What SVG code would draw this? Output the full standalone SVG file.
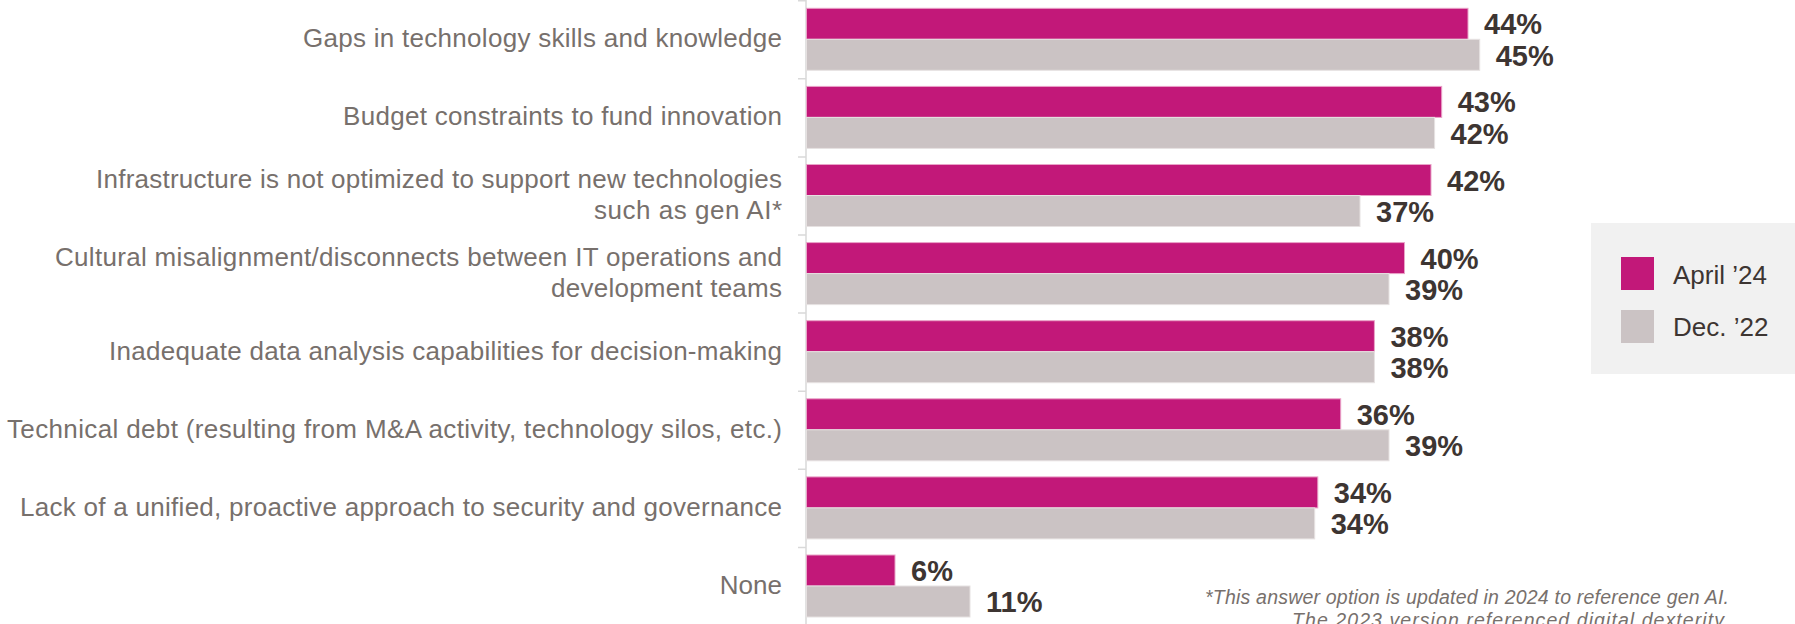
<svg xmlns="http://www.w3.org/2000/svg" width="1795" height="624" viewBox="0 0 1795 624">
<style>
.lbl{font-family:"Liberation Sans",Arial,sans-serif;font-size:26px;fill:#77706c;text-anchor:end}
.val{font-family:"Liberation Sans",Arial,sans-serif;font-size:29px;font-weight:bold;fill:#3d3532}
.m{fill:#c21879;stroke:#e9a3c8;stroke-width:1}
.g{fill:#cbc3c4;stroke:#e6e1e1;stroke-width:1}
.leg{font-family:"Liberation Sans",Arial,sans-serif;font-size:26px;fill:#3d3532}
.note{font-family:"Liberation Sans",Arial,sans-serif;font-size:19.5px;font-style:italic;fill:#77706c;text-anchor:end}
.ax{stroke:#d9d9d9;stroke-width:1.5;fill:none}
</style>
<rect width="1795" height="624" fill="#ffffff"/>
<g id="connectors">
<path class="ax" d="M806 0V624M798 0.8H806M798 78.8H806M798 156.9H806M798 235H806M798 313.1H806M798 391.2H806M798 469.3H806M798 547.4H806"/>
</g>
<g id="row1">
<text class="lbl" x="782" y="47.3" textLength="479">Gaps in technology skills and knowledge</text>
<rect class="m" x="806.5" y="8.3" width="661.5" height="31"/>
<rect class="g" x="806.5" y="39.3" width="673.2" height="31"/>
<text class="val" x="1484" y="34.3">44%</text>
<text class="val" x="1495.7" y="65.8">45%</text>
</g>
<g id="row2">
<text class="lbl" x="782" y="125.4" textLength="439">Budget constraints to fund innovation</text>
<rect class="m" x="806.5" y="86.4" width="635.2" height="31"/>
<rect class="g" x="806.5" y="117.4" width="628.1" height="31"/>
<text class="val" x="1457.7" y="112.4">43%</text>
<text class="val" x="1450.6" y="143.9">42%</text>
</g>
<g id="row3">
<text class="lbl" x="782" y="188" textLength="686">Infrastructure is not optimized to support new technologies</text>
<text class="lbl" x="782" y="219" textLength="188">such as gen AI*</text>
<rect class="m" x="806.5" y="164.5" width="624.5" height="31"/>
<rect class="g" x="806.5" y="195.5" width="553.5" height="31"/>
<text class="val" x="1447" y="190.5">42%</text>
<text class="val" x="1376" y="222">37%</text>
</g>
<g id="row4">
<text class="lbl" x="782" y="266" textLength="727">Cultural misalignment/disconnects between IT operations and</text>
<text class="lbl" x="782" y="297" textLength="231">development teams</text>
<rect class="m" x="806.5" y="242.6" width="598" height="31"/>
<rect class="g" x="806.5" y="273.6" width="582.5" height="31"/>
<text class="val" x="1420.5" y="268.6">40%</text>
<text class="val" x="1405" y="300.1">39%</text>
</g>
<g id="row5">
<text class="lbl" x="782" y="359.8" textLength="673">Inadequate data analysis capabilities for decision-making</text>
<rect class="m" x="806.5" y="320.7" width="567.9" height="31"/>
<rect class="g" x="806.5" y="351.7" width="567.9" height="31"/>
<text class="val" x="1390.4" y="346.7">38%</text>
<text class="val" x="1390.4" y="378.2">38%</text>
</g>
<g id="row6">
<text class="lbl" x="782" y="437.9" textLength="775">Technical debt (resulting from M&amp;A activity, technology silos, etc.)</text>
<rect class="m" x="806.5" y="398.8" width="534.2" height="31"/>
<rect class="g" x="806.5" y="429.8" width="582.5" height="31"/>
<text class="val" x="1356.7" y="424.8">36%</text>
<text class="val" x="1405" y="456.3">39%</text>
</g>
<g id="row7">
<text class="lbl" x="782" y="516" textLength="762">Lack of a unified, proactive approach to security and governance</text>
<rect class="m" x="806.5" y="476.9" width="511.3" height="31"/>
<rect class="g" x="806.5" y="507.9" width="508.2" height="31"/>
<text class="val" x="1333.8" y="502.9">34%</text>
<text class="val" x="1330.7" y="534.4">34%</text>
</g>
<g id="row8">
<text class="lbl" x="782" y="594.1">None</text>
<rect class="m" x="806.5" y="555" width="88.5" height="31"/>
<rect class="g" x="806.5" y="586" width="163.5" height="31"/>
<text class="val" x="911" y="581">6%</text>
<text class="val" x="986" y="612">11%</text>
</g>
<g id="legend">
<rect x="1591" y="223" width="204" height="151" fill="#f1f1f1"/>
<rect x="1621" y="257" width="33" height="33" fill="#c21879"/>
<rect x="1621" y="310" width="33" height="33" fill="#cbc3c4"/>
<text class="leg" x="1673" y="284">April ’24</text>
<text class="leg" x="1673" y="336">Dec. ’22</text>
</g>
<g id="footnote">
<text class="note" x="1729" y="604" textLength="524">*This answer option is updated in 2024 to reference gen AI.</text>
<text class="note" x="1729" y="627" textLength="437">The 2023 version referenced digital dexterity.</text>
</g>
</svg>
